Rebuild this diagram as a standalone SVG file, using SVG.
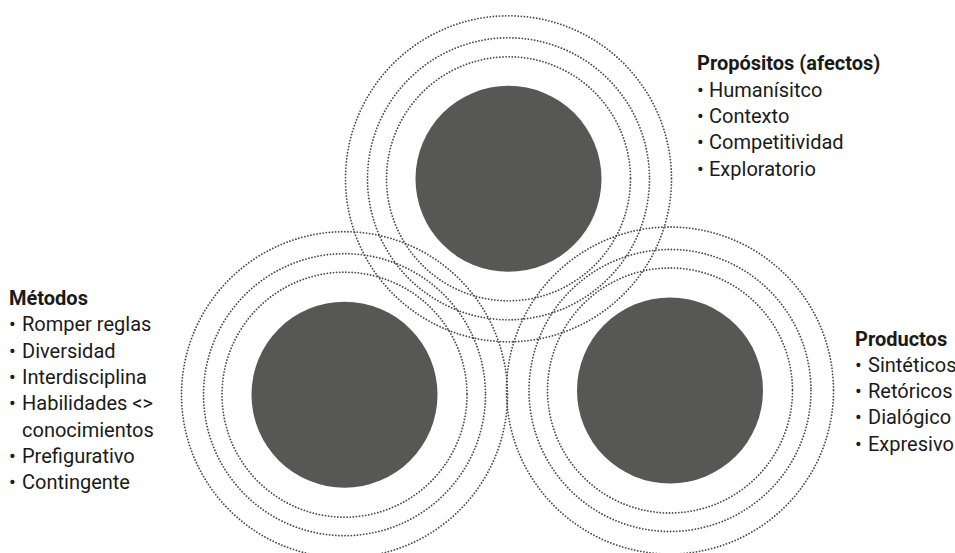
<svg xmlns="http://www.w3.org/2000/svg" width="955" height="553" viewBox="0 0 955 553">
<style>
.core{fill:#575756;}
.ring{fill:none;stroke:#4a4a4a;stroke-width:1.8;stroke-linecap:round;stroke-dasharray:0.01 3.1;}
.t{font-family:Roboto,"Liberation Sans",sans-serif;font-size:20px;fill:#1a1a1a;}
.h{font-weight:bold;}
</style>
<rect width="955" height="553" fill="#ffffff"/>
<g id="rings">
<circle class="ring" cx="508.5" cy="178.8" r="122"/>
<circle class="ring" cx="508.5" cy="178.8" r="141"/>
<circle class="ring" cx="508.5" cy="178.8" r="163"/>
<circle class="ring" cx="344.5" cy="394.7" r="122.5"/>
<circle class="ring" cx="344.5" cy="394.7" r="141"/>
<circle class="ring" cx="344.5" cy="394.7" r="163"/>
<circle class="ring" cx="670" cy="390.5" r="122.5"/>
<circle class="ring" cx="670" cy="390.5" r="141"/>
<circle class="ring" cx="670" cy="390.5" r="163.5"/>
</g>
<g id="propositos">
<circle class="core" cx="508.5" cy="178.8" r="93"/>
<text class="t h" x="697" y="70.3">Propósitos (afectos)</text>
<text class="t"><tspan x="697" y="96.6">•</tspan><tspan x="709" y="96.6">Humanísitco</tspan></text>
<text class="t"><tspan x="697" y="123">•</tspan><tspan x="709" y="123">Contexto</tspan></text>
<text class="t"><tspan x="697" y="149.3">•</tspan><tspan x="709" y="149.3">Competitividad</tspan></text>
<text class="t"><tspan x="697" y="175.6">•</tspan><tspan x="709" y="175.6">Exploratorio</tspan></text>
</g>
<g id="metodos">
<circle class="core" cx="344.5" cy="394.7" r="93"/>
<text class="t h" x="9" y="305">Métodos</text>
<text class="t"><tspan x="9" y="331.3">•</tspan><tspan x="22" y="331.3">Romper reglas</tspan></text>
<text class="t"><tspan x="9" y="357.6">•</tspan><tspan x="22" y="357.6">Diversidad</tspan></text>
<text class="t"><tspan x="9" y="383.9">•</tspan><tspan x="22" y="383.9">Interdisciplina</tspan></text>
<text class="t"><tspan x="9" y="410.2">•</tspan><tspan x="22" y="410.2">Habilidades &lt;&gt;</tspan></text>
<text class="t" x="22" y="436.5">conocimientos</text>
<text class="t"><tspan x="9" y="462.8">•</tspan><tspan x="22" y="462.8">Prefigurativo</tspan></text>
<text class="t"><tspan x="9" y="489.1">•</tspan><tspan x="22" y="489.1">Contingente</tspan></text>
</g>
<g id="productos">
<circle class="core" cx="670" cy="390.5" r="93"/>
<text class="t h" x="855" y="345.5">Productos</text>
<text class="t"><tspan x="855" y="371.8">•</tspan><tspan x="868" y="371.8">Sintéticos</tspan></text>
<text class="t"><tspan x="855" y="398.1">•</tspan><tspan x="868" y="398.1">Retóricos</tspan></text>
<text class="t"><tspan x="855" y="424.4">•</tspan><tspan x="868" y="424.4">Dialógico</tspan></text>
<text class="t"><tspan x="855" y="450.7">•</tspan><tspan x="868" y="450.7">Expresivo</tspan></text>
</g>
</svg>
